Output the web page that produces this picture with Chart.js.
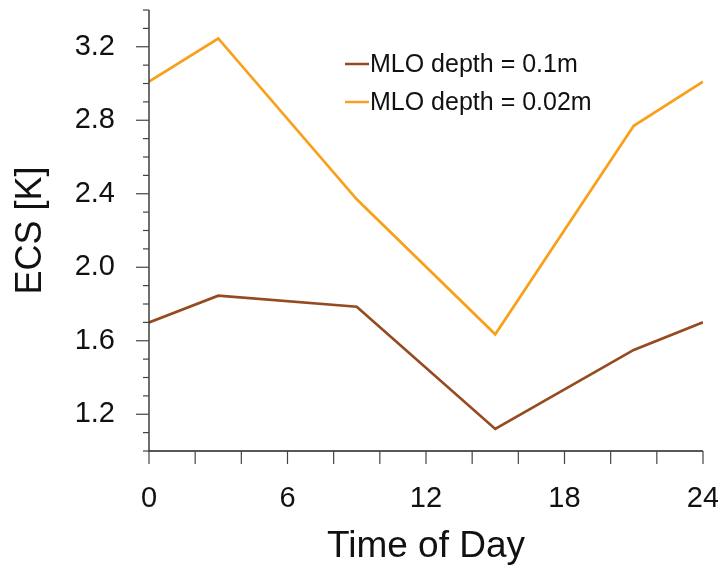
<!DOCTYPE html>
<html>
<head>
<meta charset="utf-8">
<script src="https://cdn.jsdelivr.net/npm/chart.js@4/dist/chart.umd.min.js"></script>
<style>
  html, body { margin: 0; padding: 0; background: #fff; }
  #wrap { width: 718px; height: 569px; }
</style>
</head>
<body>
<div id="wrap"><canvas id="ecsChart" width="718" height="569"></canvas></div>
<script>
const hours = [0, 3, 9, 15, 21, 24];
const ecsDeep = [1.70, 1.845, 1.785, 1.12, 1.55, 1.70];
const ecsShallow = [3.01, 3.245, 2.37, 1.635, 2.77, 3.01];
const seriesLabels = ['MLO depth = 0.1m', 'MLO depth = 0.02m'];
const seriesColors = ['#954a20', '#f9a01b'];
const xLabelTicks = [0, 6, 12, 18, 24];
const yLabelTicks = [1.2, 1.6, 2.0, 2.4, 2.8, 3.2];

const fontFamily = 'Liberation Sans, Arial, Helvetica, sans-serif';

function toPoints(values) {
    return hours.map((h, i) => ({ x: h, y: values[i] }));
}

function isLabelTick(list, v) {
    return list.some(t => Math.abs(t - v) < 1e-6);
}

// Draw tick marks and axis lines ourselves (major ticks are longer on y)
const axisPlugin = {
    id: 'axisMarks',
    afterDatasetsDraw(chart) {
        const ctx = chart.ctx;
        const area = chart.chartArea;
        const xs = chart.scales.x;
        const ys = chart.scales.y;
        ctx.save();
        ctx.strokeStyle = '#222';
        ctx.lineWidth = 1.3;
        ctx.beginPath();
        ctx.moveTo(area.left, area.top);
        ctx.lineTo(area.left, area.bottom);
        ctx.lineTo(area.right, area.bottom);
        ctx.stroke();

        ctx.strokeStyle = '#444';
        ctx.lineWidth = 1.2;
        xs.ticks.forEach(t => {
            const px = xs.getPixelForValue(t.value);
            ctx.beginPath();
            ctx.moveTo(px, area.bottom);
            ctx.lineTo(px, area.bottom + 13);
            ctx.stroke();
        });
        ys.ticks.forEach(t => {
            const py = ys.getPixelForValue(t.value);
            const len = isLabelTick(yLabelTicks, t.value) ? 13 : 6;
            ctx.beginPath();
            ctx.moveTo(area.left - len, py);
            ctx.lineTo(area.left, py);
            ctx.stroke();
        });
        ctx.restore();
    }
};

// Legend inside the plot area, top right
const legendPlugin = {
    id: 'insideLegend',
    afterDraw(chart) {
        const ctx = chart.ctx;
        ctx.save();
        ctx.font = '25px ' + fontFamily;
        ctx.textBaseline = 'middle';
        ctx.fillStyle = '#111';
        chart.data.datasets.forEach((ds, i) => {
            const y = 64 + i * 38;
            ctx.strokeStyle = ds.borderColor;
            ctx.lineWidth = 2.5;
            ctx.beginPath();
            ctx.moveTo(345, y);
            ctx.lineTo(369, y);
            ctx.stroke();
            ctx.fillText(ds.label, 370, y + 1);
        });
        ctx.restore();
    }
};

const ctx = document.getElementById('ecsChart').getContext('2d');
new Chart(ctx, {
    type: 'line',
    data: {
        datasets: [
            {
                label: seriesLabels[0],
                data: toPoints(ecsDeep),
                borderColor: seriesColors[0],
                borderWidth: 2.7,
                pointRadius: 0,
                tension: 0,
                fill: false
            },
            {
                label: seriesLabels[1],
                data: toPoints(ecsShallow),
                borderColor: seriesColors[1],
                borderWidth: 2.7,
                pointRadius: 0,
                tension: 0,
                fill: false
            }
        ]
    },
    options: {
        responsive: false,
        animation: false,
        layout: { padding: { top: 10, right: 15, left: 0, bottom: 0 } },
        plugins: {
            legend: { display: false },
            tooltip: { enabled: false }
        },
        scales: {
            x: {
                type: 'linear',
                min: 0,
                max: 24,
                border: { display: false },
                grid: { display: false, drawTicks: false },
                ticks: {
                    stepSize: 2,
                    autoSkip: false,
                    maxRotation: 0,
                    padding: 31,
                    color: '#111',
                    font: { size: 29, family: fontFamily },
                    callback: v => isLabelTick(xLabelTicks, v) ? String(v) : ''
                },
                title: {
                    display: true,
                    text: 'Time of Day',
                    color: '#111',
                    font: { size: 37, family: fontFamily },
                    padding: { top: 5, bottom: 0 }
                },
                afterFit(scale) {
                    scale.height = 118;
                    scale.paddingLeft = 0;
                    scale.paddingRight = 0;
                }
            },
            y: {
                min: 1.0,
                max: 3.4,
                border: { display: false },
                grid: { display: false, drawTicks: false },
                ticks: {
                    stepSize: 0.1,
                    autoSkip: false,
                    padding: 34,
                    color: '#111',
                    font: { size: 29, family: fontFamily },
                    callback: v => isLabelTick(yLabelTicks, v) ? v.toFixed(1) : ''
                },
                title: {
                    display: true,
                    text: 'ECS [K]',
                    color: '#111',
                    font: { size: 36, family: fontFamily },
                    padding: { top: 9, bottom: 0 }
                },
                afterFit(scale) {
                    scale.width = 149;
                    scale.paddingTop = 0;
                    scale.paddingBottom = 0;
                }
            }
        }
    },
    plugins: [axisPlugin, legendPlugin]
});
</script>
</body>
</html>
